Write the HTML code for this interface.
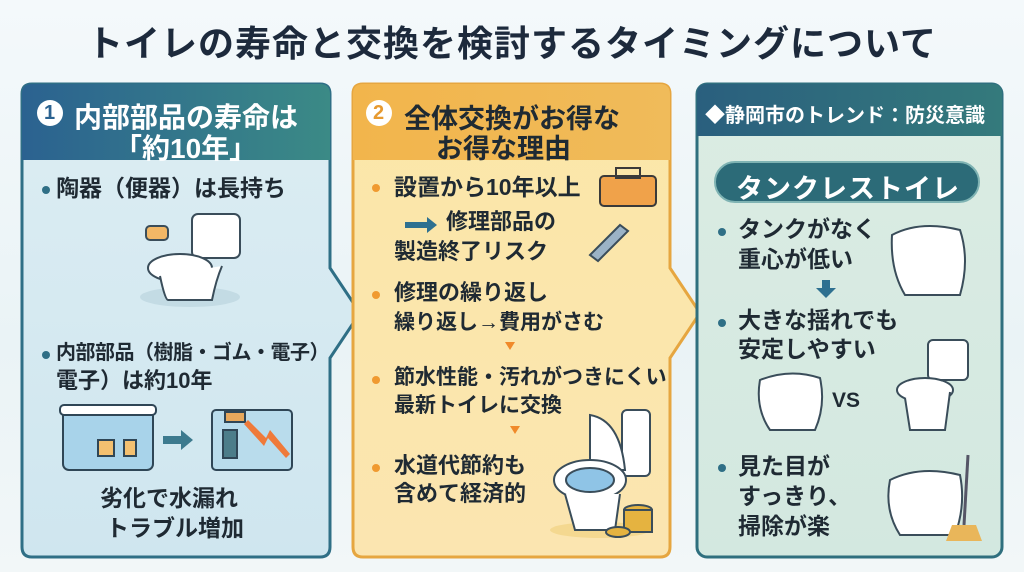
<!DOCTYPE html>
<html><head><meta charset="utf-8"><style>
*{margin:0;padding:0;box-sizing:border-box}
body{width:1024px;height:572px;overflow:hidden;position:relative;background:linear-gradient(180deg,#f4f9fb 0%,#eaf3f6 60%,#f2f7f8 100%);font-family:"Liberation Sans","Noto Sans CJK JP",sans-serif;font-weight:bold;color:#1f2a33}
.a{position:absolute;white-space:nowrap}
.t{font-size:22px;line-height:1}
.u{font-size:21px;line-height:1}
.v{font-size:23px;line-height:1}
.dot{position:absolute;width:8px;height:8px;border-radius:50%}
svg{position:absolute;left:0;top:0}
</style></head><body>
<div class="a" style="left:0;width:1024px;top:15px;text-align:center;font-size:36px;color:#1d2a3c;letter-spacing:1px">トイレの寿命と交換を検討するタイミングについて</div>

<svg width="1024" height="572" viewBox="0 0 1024 572">
<defs>
<linearGradient id="h1" x1="0" x2="1"><stop offset="0" stop-color="#2b6290"/><stop offset="1" stop-color="#3b8a86"/></linearGradient>
<linearGradient id="b1" x1="0" y1="0" x2="0" y2="1"><stop offset="0" stop-color="#dcedf3"/><stop offset="1" stop-color="#cfe6ef"/></linearGradient>
<linearGradient id="h2" x1="0" x2="1"><stop offset="0" stop-color="#f2b54c"/><stop offset="1" stop-color="#f0bb5a"/></linearGradient>
<linearGradient id="b2" x1="0" y1="0" x2="0" y2="1"><stop offset="0" stop-color="#fbe7a8"/><stop offset="1" stop-color="#fbe5b0"/></linearGradient>
<linearGradient id="h3" x1="0" x2="1"><stop offset="0" stop-color="#2a5f7e"/><stop offset="1" stop-color="#347a7c"/></linearGradient>
<linearGradient id="b3" x1="0" y1="0" x2="0" y2="1"><stop offset="0" stop-color="#dbece3"/><stop offset="1" stop-color="#d3e8e0"/></linearGradient>
</defs>
<path d="M32 84 H320 Q330 84 330 94 V268 L360 313 L330 358 V547 Q330 557 320 557 H32 Q22 557 22 547 V94 Q22 84 32 84Z" fill="url(#b1)" stroke="#2f6f86" stroke-width="3"/>
<path d="M32 84 H320 Q330 84 330 94 V160 H22 V94 Q22 84 32 84Z" fill="url(#h1)"/>
<path d="M363 84 H660 Q670 84 670 94 V268 L700 313 L670 358 V547 Q670 557 660 557 H363 Q353 557 353 547 V94 Q353 84 363 84Z" fill="url(#b2)" stroke="#e6a640" stroke-width="3"/>
<path d="M363 84 H660 Q670 84 670 94 V160 H353 V94 Q353 84 363 84Z" fill="url(#h2)"/>
<rect x="697" y="84" width="305" height="473" rx="10" fill="url(#b3)" stroke="#2f6f7e" stroke-width="3"/>
<path d="M707 84 H992 Q1002 84 1002 94 V136 H697 V94 Q697 84 707 84Z" fill="url(#h3)"/>
<rect x="715" y="162" width="264" height="40" rx="20" fill="#2c6b78" stroke="#7fb3b3" stroke-width="2"/>
<circle cx="50" cy="113" r="13" fill="#fff"/><circle cx="379" cy="113" r="13" fill="#fff"/>

<g stroke="#3a4d5a" stroke-width="2" fill="#fff">
<ellipse cx="190" cy="297" rx="50" ry="10" fill="#c3dbe4" stroke="none"/>
<rect x="192" y="214" width="48" height="44" rx="6"/>
<ellipse cx="180" cy="268" rx="32" ry="14"/>
<path d="M160 276 Q165 300 168 300 H212 Q216 280 222 266"/>
<rect x="146" y="226" width="22" height="14" rx="4" fill="#f2b766"/>
</g>
<g stroke="#2f4656" stroke-width="2">
<rect x="63" y="410" width="90" height="60" rx="6" fill="#a8d3ea"/>
<rect x="60" y="405" width="96" height="10" rx="4" fill="#fff"/>
<rect x="98" y="440" width="16" height="16" fill="#f3c070"/><rect x="124" y="440" width="12" height="16" fill="#f3c070"/>
<rect x="212" y="410" width="80" height="60" rx="4" fill="#b9dcec"/>
<rect x="223" y="430" width="14" height="28" fill="#4c7d8a"/>
<rect x="225" y="412" width="20" height="10" fill="#e7a85c"/>
</g>
<path d="M163 436 h18 v-6 l12 10 -12 10 v-6 h-18z" fill="#3c7a8e"/>
<path d="M248 420 l18 18 4-8 20 24 -4 4 -18-20 -4 8 -20-22z" fill="#ef7a3a"/>

<rect x="600" y="176" width="56" height="30" rx="4" fill="#f0a24a" stroke="#3a3a3a" stroke-width="2"/>
<rect x="616" y="168" width="24" height="10" fill="none" stroke="#3a3a3a" stroke-width="2"/>
<path d="M590 255 l30-30 8 6 -30 30z" fill="#9bb3c6" stroke="#3a4d5a" stroke-width="2"/>
<path d="M405 222 h22 v-5 l10 8 -10 8 v-5 h-22z" fill="#2e7090"/>
<path d="M505 342 h10 l-5 8z" fill="#f08a2a"/><path d="M510 426 h10 l-5 8z" fill="#f08a2a"/>
<g stroke="#3a4d5a" stroke-width="2" fill="#fff">
<ellipse cx="600" cy="530" rx="50" ry="8" fill="#f4d890" stroke="none"/>
<rect x="622" y="410" width="28" height="66" rx="5"/>
<path d="M590 415 Q620 420 625 470 H590Z"/>
<ellipse cx="590" cy="480" rx="36" ry="20"/>
<ellipse cx="590" cy="480" rx="24" ry="12" fill="#8fc4e6"/>
<path d="M565 494 L575 530 H615 L620 494"/>
<g fill="#e5b340"><ellipse cx="638" cy="510" rx="14" ry="5"/><rect x="624" y="510" width="28" height="22"/><ellipse cx="618" cy="532" rx="12" ry="5"/></g>
</g>
<path d="M822 280 h8 v8 h6 l-10 10 -10-10 h6z" fill="#2e7090"/>
<g stroke="#3a4d5a" stroke-width="2" fill="#fff">
<path d="M892 235 Q920 220 960 230 Q970 260 960 295 H905 Q890 270 892 235Z"/>
<path d="M760 380 Q790 368 820 378 Q826 405 815 430 H770 Q755 408 760 380Z"/>
<rect x="928" y="340" width="40" height="40" rx="5"/>
<ellipse cx="925" cy="390" rx="28" ry="12"/>
<path d="M905 398 L910 430 H945 L950 392"/>
<path d="M890 480 Q920 465 960 475 Q966 505 955 535 H900 Q884 510 890 480Z"/>
</g>
<line x1="968" y1="455" x2="964" y2="525" stroke="#556" stroke-width="3"/>
<path d="M952 525 h24 l6 16 h-36z" fill="#e9b65a"/>
</svg>

<div class="a" style="left:44px;top:102px;font-size:20px;color:#2b6290">1</div>
<div class="a" style="left:74px;top:96px;font-size:28px;color:#fff">内部部品の寿命は</div>
<div class="a" style="left:114px;top:127px;font-size:28px;color:#fff">「約10年」</div>
<div class="dot" style="left:42px;top:186px;background:#2f6f86"></div>
<div class="a t" style="left:56px;top:177px;font-size:23px">陶器（便器）は長持ち</div>
<div class="dot" style="left:42px;top:351px;background:#2f6f86"></div>
<div class="a t" style="left:56px;top:343px;font-size:20px;letter-spacing:-0.5px">内部部品（樹脂・ゴム・電子）</div>
<div class="a t" style="left:56px;top:370px">電子）は約10年</div>
<div class="a t" style="left:100px;top:487px;font-size:23px">劣化で水漏れ</div>
<div class="a t" style="left:106px;top:517px;font-size:23px">トラブル増加</div>

<div class="a" style="left:373px;top:102px;font-size:20px;color:#e79a30">2</div>
<div class="a" style="left:404px;top:97px;font-size:27px;color:#1f2a33">全体交換がお得な</div>
<div class="a" style="left:436px;top:127px;font-size:27px;color:#1f2a33">お得な理由</div>
<div class="dot" style="left:372px;top:184px;background:#f09a30"></div>
<div class="a u" style="left:394px;top:176px;font-size:23px">設置から10年以上</div>
<div class="a u" style="left:446px;top:211px;font-size:22px">修理部品の</div>
<div class="a u" style="left:394px;top:241px;font-size:22px">製造終了リスク</div>
<div class="dot" style="left:372px;top:291px;background:#f09a30"></div>
<div class="a u" style="left:394px;top:282px;font-size:22px">修理の繰り返し</div>
<div class="a u" style="left:394px;top:312px">繰り返し→費用がさむ</div>
<div class="dot" style="left:372px;top:376px;background:#f09a30"></div>
<div class="a u" style="left:394px;top:367px">節水性能・汚れがつきにくい</div>
<div class="a u" style="left:394px;top:395px">最新トイレに交換</div>
<div class="dot" style="left:372px;top:464px;background:#f09a30"></div>
<div class="a u" style="left:394px;top:455px;font-size:22px">水道代節約も</div>
<div class="a u" style="left:394px;top:483px;font-size:22px">含めて経済的</div>

<div class="a" style="left:705px;top:99px;font-size:20px;color:#fff">◆静岡市のトレンド：防災意識</div>
<div class="a" style="left:736px;top:167px;font-size:27px;color:#fff;letter-spacing:1px">タンクレストイレ</div>
<div class="dot" style="left:718px;top:228px;background:#2f6f86"></div>
<div class="a v" style="left:738px;top:218px">タンクがなく</div>
<div class="a v" style="left:738px;top:248px">重心が低い</div>
<div class="dot" style="left:718px;top:319px;background:#2f6f86"></div>
<div class="a v" style="left:738px;top:309px">大きな揺れでも</div>
<div class="a v" style="left:738px;top:338px">安定しやすい</div>
<div class="a" style="left:832px;top:389px;font-size:21px">VS</div>
<div class="dot" style="left:718px;top:464px;background:#2f6f86"></div>
<div class="a v" style="left:738px;top:455px">見た目が</div>
<div class="a v" style="left:738px;top:485px">すっきり、</div>
<div class="a v" style="left:738px;top:515px">掃除が楽</div>
</body></html>
